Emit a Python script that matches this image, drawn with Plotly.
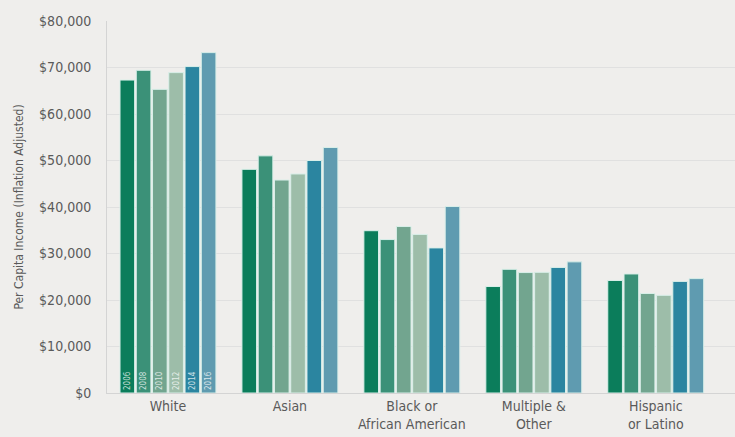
import plotly.graph_objects as go

# Per capita income by race/ethnicity, inflation adjusted
categories = ["White", "Asian", "Black or<br>African American", "Multiple &<br>Other", "Hispanic<br>or Latino"]
years = ["2006", "2008", "2010", "2012", "2014", "2016"]

income_2006 = [67300, 48100, 34900, 22900, 24200]
income_2008 = [69400, 51000, 33000, 26600, 25600]
income_2010 = [65300, 45800, 35800, 25900, 21400]
income_2012 = [68900, 47100, 34100, 25950, 21000]
income_2014 = [70200, 50000, 31200, 27000, 24000]
income_2016 = [73200, 52800, 40100, 28200, 24600]

series = [income_2006, income_2008, income_2010, income_2012, income_2014, income_2016]
colors = ["#0b7d5b", "#3b9178", "#72a58f", "#9dbda9", "#2b85a0", "#5f9bb0"]

y_ticks = [0, 10000, 20000, 30000, 40000, 50000, 60000, 70000, 80000]
y_tick_text = ["$0", "$10,000", "$20,000", "$30,000", "$40,000", "$50,000", "$60,000", "$70,000", "$80,000"]

font_family = "Liberation Sans Narrow, DejaVu Sans Condensed, Arial Narrow, sans-serif"

fig = go.Figure()
for year, values, color in zip(years, series, colors):
    # year label only inside the first group's bars
    labels = [year] + [""] * (len(categories) - 1)
    fig.add_trace(go.Bar(
        x=categories,
        y=values,
        name=year,
        marker=dict(color=color, line=dict(color="#d9efe9", width=1)),
        text=labels,
        textposition="inside",
        insidetextanchor="start",
        textangle=-90,
        textfont=dict(family=font_family, size=8, color="rgba(255,255,255,0.75)"),
        constraintext="none",
        cliponaxis=False,
    ))

fig.update_layout(
    width=735,
    height=437,
    margin=dict(l=107, r=0, t=21, b=44),
    paper_bgcolor="#efeeec",
    plot_bgcolor="#efeeec",
    barmode="group",
    bargap=0.2,
    bargroupgap=0.1,
    showlegend=False,
    font=dict(family=font_family, color="#5a5a5a", size=14),
    xaxis=dict(
        range=[-0.5, 4.65],
        showgrid=False,
        showline=True,
        linecolor="#d4d4d4",
        linewidth=1,
        ticks="",
        tickfont=dict(size=14, color="#5a5a5a"),
    ),
    yaxis=dict(
        range=[0, 80000],
        tickvals=y_ticks,
        ticktext=y_tick_text,
        showgrid=True,
        gridcolor="#e0e0e0",
        gridwidth=1,
        showline=True,
        linecolor="#d4d4d4",
        zeroline=False,
        ticks="",
        ticklabelstandoff=12,
        tickfont=dict(size=14, color="#5a5a5a"),
        title=dict(text="Per Capita Income (Inflation Adjusted)", font=dict(size=12, color="#5a5a5a"), standoff=12),
    ),
)

fig.write_html("out.html")
